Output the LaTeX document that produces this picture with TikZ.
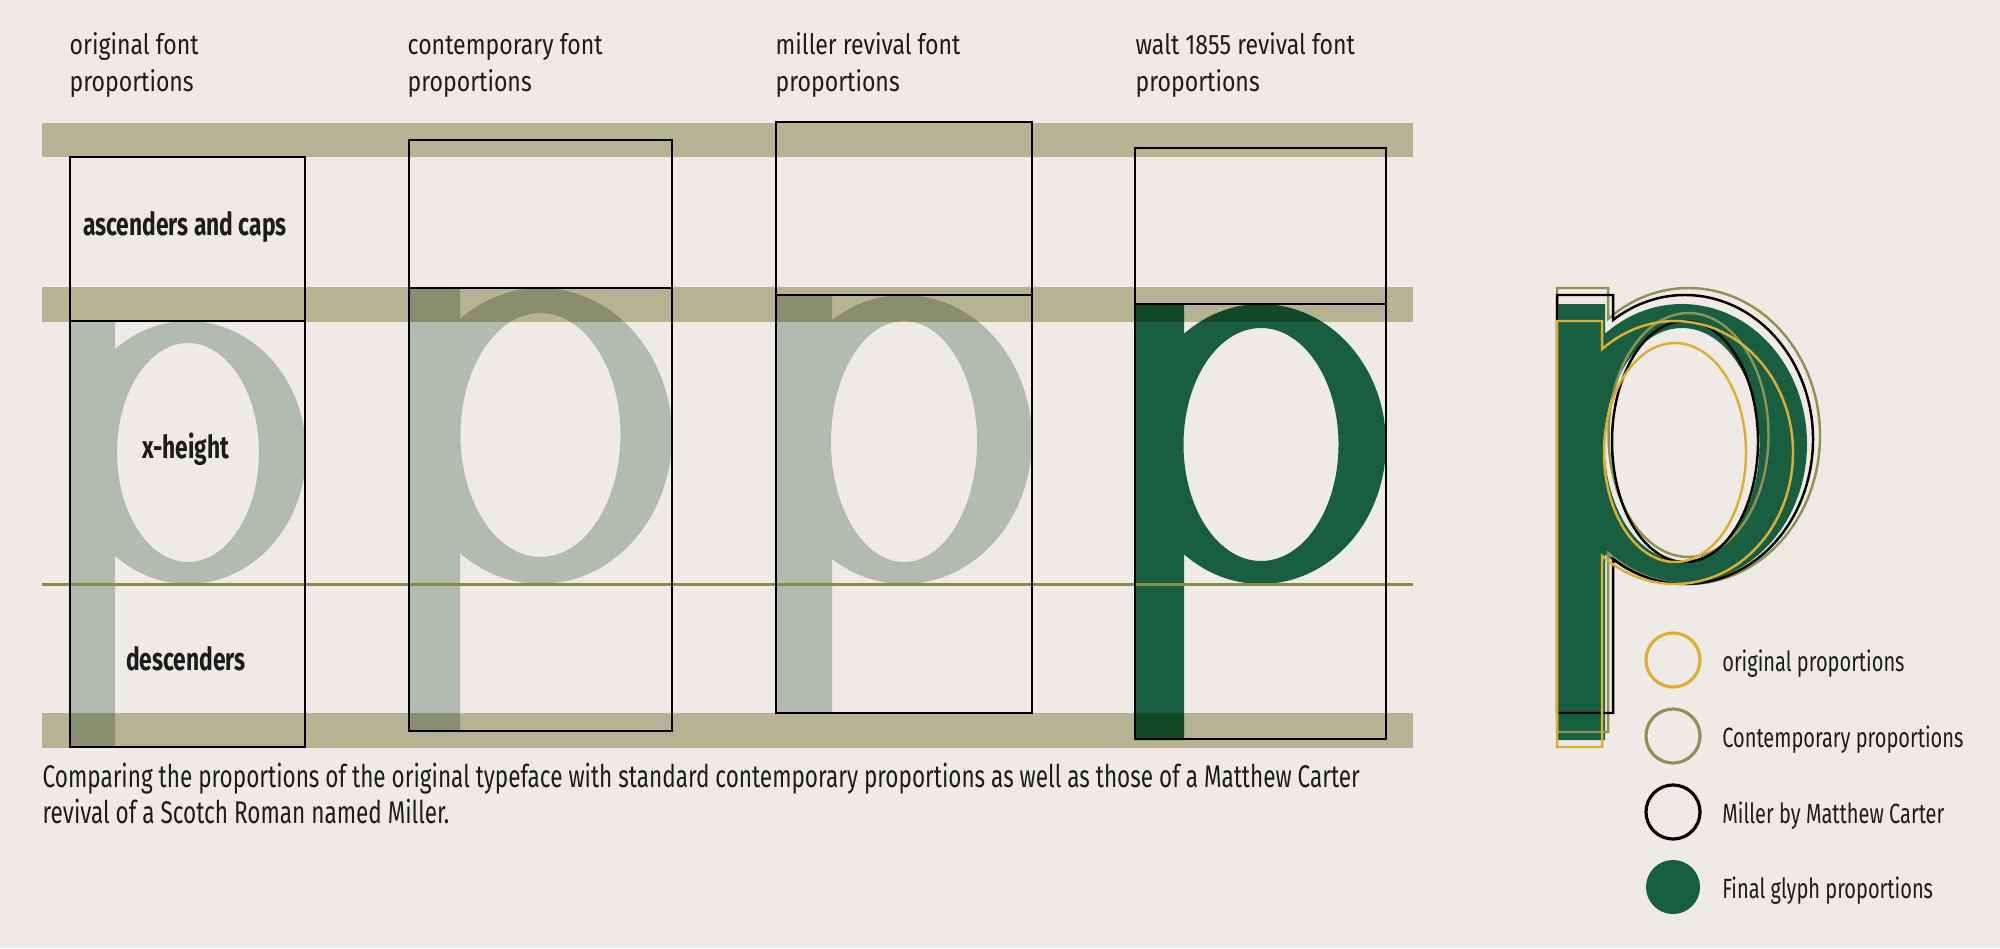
\documentclass[tikz,border=0pt]{standalone}
\usepackage{fontspec}
\setmainfont{Fira Sans}[FakeStretch=0.82]
\newfontfamily\narrowsans{Fira Sans}[FakeStretch=0.72]
\usepackage{xcolor}
\usetikzlibrary{positioning}

\definecolor{bgcol}{HTML}{EEEBE7}
\definecolor{bandtan}{HTML}{C4C3A2}
\definecolor{pgrey}{HTML}{B3BAAF}
\definecolor{pgreen}{HTML}{185E40}
\definecolor{xolive}{HTML}{8A8C4A}
\definecolor{origcol}{HTML}{DDAE30}
\definecolor{contcol}{HTML}{8C9453}
\definecolor{txtcol}{HTML}{1C1C1C}

% p outline: stem width, stem top, stem bottom, bowl centre x (= x radius),
% bowl centre y, bowl y radius, counter centre y, counter radii
\newcommand{\glyphp}[9]{%
  \pgfextra{\pgfmathparse{acos((#1-#4)/#4)}\xdef\pnotch{\pgfmathresult}}
  (0,#2) -- (#1,#2) -- ([shift={(-\pnotch:#4 and #6)}]#4,#5)
  arc[start angle=-\pnotch, end angle=\pnotch, x radius=#4, y radius=#6]
  -- (#1,#3) -- (0,#3) -- cycle
  (#4,#7) ellipse[x radius=#8, y radius=#9]}
\newcommand{\porig}{\glyphp{45}{321}{747}{118}{452.5}{131.5}{452.5}{71}{109.5}}
\newcommand{\pcont}{\glyphp{51}{288}{732}{131.5}{436}{148}{435}{80}{122}}
\newcommand{\pmill}{\glyphp{56}{295}{713}{128}{439.5}{144.5}{441.5}{73}{120.5}}
\newcommand{\pwalt}{\glyphp{48}{304}{740}{125}{444}{140}{444.5}{77.5}{116.5}}

\begin{document}
\begin{tikzpicture}[
    x=0.01cm, y=-0.01cm,
    headtext/.style={anchor=base west, align=left, inner sep=0pt, text=txtcol, font=\fontsize{8}{10.24}\selectfont},
    zonetext/.style={anchor=base, inner sep=0pt, text=txtcol, font=\narrowsans\fontsize{9}{11}\selectfont\bfseries},
    captext/.style={anchor=base west, align=left, inner sep=0pt, text=txtcol, font=\narrowsans\fontsize{8.9}{10.24}\selectfont},
    legtext/.style={anchor=west, inner sep=0pt, yshift=-0.04cm, text=txtcol, font=\narrowsans\fontsize{7.9}{10}\selectfont},
    legring/.style={circle, minimum size=0.54cm, inner sep=0pt, line width=0.9pt},
    band/.style={fill=bandtan, blend mode=multiply},
    propbox/.style={draw=black, line width=0.6pt},
    xline/.style={draw=xolive, line width=0.85pt},
    glyphfill/.style={even odd rule},
    glyphline/.style={line width=0.7pt},
]
\useasboundingbox (0,0) rectangle (2000,948);
\fill[bgcol] (0,0) rectangle (2000,948);

% glyphs of the four proportions
\fill[glyphfill, pgrey, shift={(70,0)}] \porig;
\fill[glyphfill, pgrey, shift={(409,0)}] \pcont;
\fill[glyphfill, pgrey, shift={(776,0)}] \pmill;
\fill[glyphfill, pgreen, shift={(1136,0)}] \pwalt;

% guide bands and baseline
\fill[band] (42,123) rectangle (1413,157);
\fill[band] (42,287) rectangle (1413,322);
\fill[band] (42,713) rectangle (1413,748);
\draw[xline] (42,584) -- (1413,584);

% proportion boxes
\draw[propbox] (70,157) rectangle (305,747);
\draw[propbox] (70,321) -- (305,321);
\draw[propbox] (409,140) rectangle (672,731);
\draw[propbox] (409,288) -- (672,288);
\draw[propbox] (776,122) rectangle (1032,713);
\draw[propbox] (776,295) -- (1032,295);
\draw[propbox] (1135,148) rectangle (1386,739);
\draw[propbox] (1135,304) -- (1386,304);

% headings (base = last line)
\node[headtext] (hdorig) at (69,91) {original font\\proportions};
\node[headtext] (hdcont) at (407,91) {contemporary font\\proportions};
\node[headtext] (hdmill) at (775,91) {miller revival font\\proportions};
\node[headtext] (hdwalt) at (1135,91) {walt 1855 revival font\\proportions};

\node[zonetext] (asc) at (185,235) {ascenders and caps};
\node[zonetext] (xht) at (186,458) {x-height};
\node[zonetext] (desc) at (186,670) {descenders};

\node[captext] (caption) at (42,823) {Comparing the proportions of the original typeface with standard contemporary proportions as well as those of a Matthew Carter\\revival of a Scotch Roman named Miller.};

% overlay of all four
\fill[glyphfill, pgreen, shift={(1557,0)}] \pwalt;
\draw[glyphline, contcol, shift={(1557,0)}] \pcont;
\draw[glyphline, black, shift={(1557,0)}] \pmill;
\draw[glyphline, origcol, shift={(1557,0)}] \porig;

% legend
\node[legring, draw=origcol] (keyorig) at (1673,660) {};
\node[legring, draw=contcol] (keycont) at (1673,736) {};
\node[legring, draw=black] (keymill) at (1673,812) {};
\node[legring, fill=pgreen] (keywalt) at (1673,887) {};
\node[legtext, right=0.2cm of keyorig] (txorig) {original proportions};
\node[legtext, right=0.2cm of keycont] (txcont) {Contemporary proportions};
\node[legtext, right=0.2cm of keymill] (txmill) {Miller by Matthew Carter};
\node[legtext, right=0.2cm of keywalt] (txwalt) {Final glyph proportions};
\end{tikzpicture}
\end{document}
